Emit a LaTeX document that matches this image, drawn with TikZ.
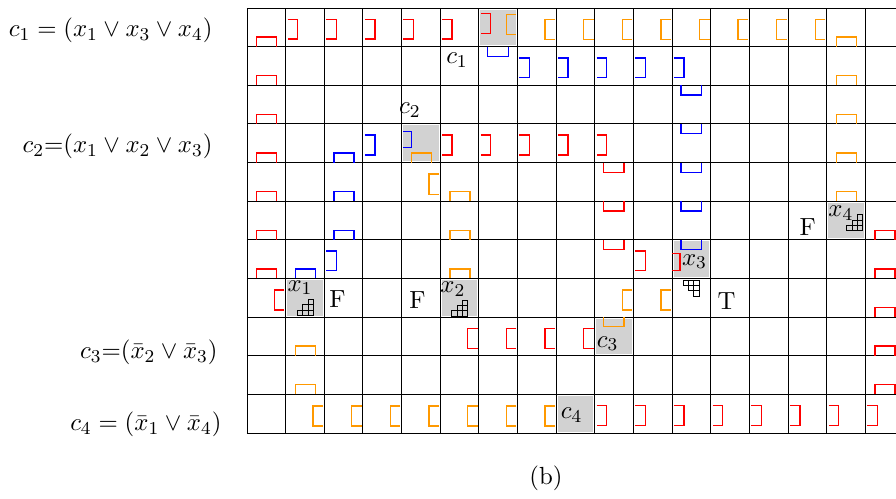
\documentclass[tikz,border=0pt]{standalone}
\usepackage{amsmath}
\usepackage{tikz}

\definecolor{pieceorange}{RGB}{255,153,0}

\begin{document}
\begin{tikzpicture}[x=0.6cm, y=0.6cm,
    every node/.style={font=\fontsize{10.95}{13.6}\selectfont},
    piece/.style={line width=0.6pt},
    archbot/.pic={\draw[piece] (0.25,0) -- (0.25,0.25) -- (0.77,0.25) -- (0.77,0);},
    cuptop/.pic={\draw[piece] (0.23,1) -- (0.23,0.75) -- (0.76,0.75) -- (0.76,1);},
    openleft/.pic={\draw[piece] (0.05,0.71) -- (0.31,0.71) -- (0.31,0.2) -- (0.05,0.2);},
    openright/.pic={\draw[piece] (0.97,0.7) -- (0.71,0.7) -- (0.71,0.18) -- (0.97,0.18);},
    stair/.pic={\foreach \i/\j in {0/0,1/0,2/0,1/1,2/1,2/2}
        \draw[thin] (0.138*\i,0.138*\j) rectangle ++(0.138,0.138);},
    stairflip/.pic={\foreach \i/\j in {0/2,1/2,2/2,1/1,2/1,2/0}
        \draw[thin] (0.138*\i,0.138*\j) rectangle ++(0.138,0.138);}]
  \path[use as bounding box, clip] (-6.392,-1.682) rectangle (16.796,11.207);
  % Gadget cells
  \foreach \x/\y in {6/10,4/7,15/5,11/4,1/3,5/3,9/2,8/0}
    \fill[gray!35] (\x+0.04,\y+0.04) rectangle (\x+0.96,\y+0.96);
  % Grid
  \foreach \x in {0,...,17}
    \draw[thin] (\x,0) -- (\x,11);
  \foreach \y in {0,...,11}
    \draw[thin] (0,\y) -- (17,\y);
  % Red pieces
  \foreach \y in {10,9,8,7,6,5,4}
    \pic[red] at (0,\y) {archbot};
  \foreach \y in {5,4,3,2,1}
    \pic[red] at (16,\y) {archbot};
  \foreach \y in {6,5,4}
    \pic[red] at (9,\y) {cuptop};
  \foreach \x in {1,...,5}
    \pic[red] at (\x,10) {openleft};
  \pic[red] at (6,10.14) {openleft};
  \foreach \x in {5,...,9}
    \pic[red] at (\x,7) {openleft};
  \pic[red] at (10,4) {openleft};
  \foreach \x in {9,...,16}
    \pic[red] at (\x,0) {openleft};
  \pic[red] at (0,3) {openright};
  \foreach \x in {5,...,8}
    \pic[red] at (\x,2) {openright};
  \draw[piece, red] (11,4.64) -- (11.21,4.64) -- (11.21,4.2) -- (11,4.2);
  % Blue pieces
  \foreach \y in {7,6,5}
    \pic[blue] at (2,\y) {archbot};
  \pic[blue] at (1,4) {archbot};
  \pic[blue] at (6,9) {cuptop};
  \foreach \y in {8,7,6,5,4}
    \pic[blue] at (11,\y) {cuptop};
  \foreach \x in {7,...,11}
    \pic[blue] at (\x,9) {openleft};
  \pic[blue] at (3,7) {openleft};
  \pic[blue] at (2,4) {openleft};
  \draw[piece, blue] (4.04,7.8) -- (4.25,7.8) -- (4.25,7.39) -- (4.04,7.39);
  % Orange pieces
  \foreach \y in {10,9,8,7,6}
    \pic[pieceorange] at (15,\y) {archbot};
  \foreach \y in {6,5,4}
    \pic[pieceorange] at (5,\y) {archbot};
  \foreach \y in {2,1}
    \pic[pieceorange] at (1,\y) {archbot};
  \pic[pieceorange] at (4,7) {archbot};
  \pic[pieceorange] at (9,2) {cuptop};
  \pic[pieceorange] at (6,10.14) {openright};
  \foreach \x in {7,...,14}
    \pic[pieceorange] at (\x,10) {openright};
  \pic[pieceorange] at (4,6) {openright};
  \foreach \x in {9,10}
    \pic[pieceorange] at (\x,3) {openright};
  \foreach \x in {1,...,7}
    \pic[pieceorange] at (\x,0) {openright};
  % Variable gadgets
  \pic at (1.302,3.046) {stair};
  \pic at (5.298,3.028) {stair};
  \pic at (15.52,5.236) {stair};
  \pic at (11.29,3.545) {stairflip};
  \node (x1) at (1.372,3.766) {$x_1$};
  \node (x2) at (5.327,3.727) {$x_2$};
  \node (x3) at (11.58,4.438) {$x_3$};
  \node (x4) at (15.37,5.685) {$x_4$};
  % Truth values
  \node (v1) at (2.342,3.468) {F};
  \node (v2) at (4.413,3.429) {F};
  \node (v3) at (12.41,3.416) {T};
  \node (v4) at (14.51,5.318) {F};
  % Clause gadgets
  \node (c1) at (5.435,9.653) {$c_1$};
  \node (c2) at (4.218,8.359) {$c_2$};
  \node (c3) at (9.33,2.316) {$c_3$};
  \node (c4) at (8.403,0.466) {$c_4$};
  % Clause labels
  \node[anchor=east, inner sep=0pt] (lc1) at (-0.88,10.41) {$c_1 = (x_1 \vee x_3 \vee x_4)$};
  \node[anchor=east, inner sep=0pt] (lc2) at (-0.88,7.42) {$c_2{=}(x_1 \vee x_2 \vee x_3)$};
  \node[anchor=east, inner sep=0pt] (lc3) at (-0.75,2.09) {$c_3{=}(\bar{x}_2 \vee \bar{x}_3)$};
  \node[anchor=east, inner sep=0pt] (lc4) at (-0.65,0.23) {$c_4 = (\bar{x}_1 \vee \bar{x}_4)$};
  \node (cap) at (7.738,-1.165) {(b)};
\end{tikzpicture}
\end{document}
